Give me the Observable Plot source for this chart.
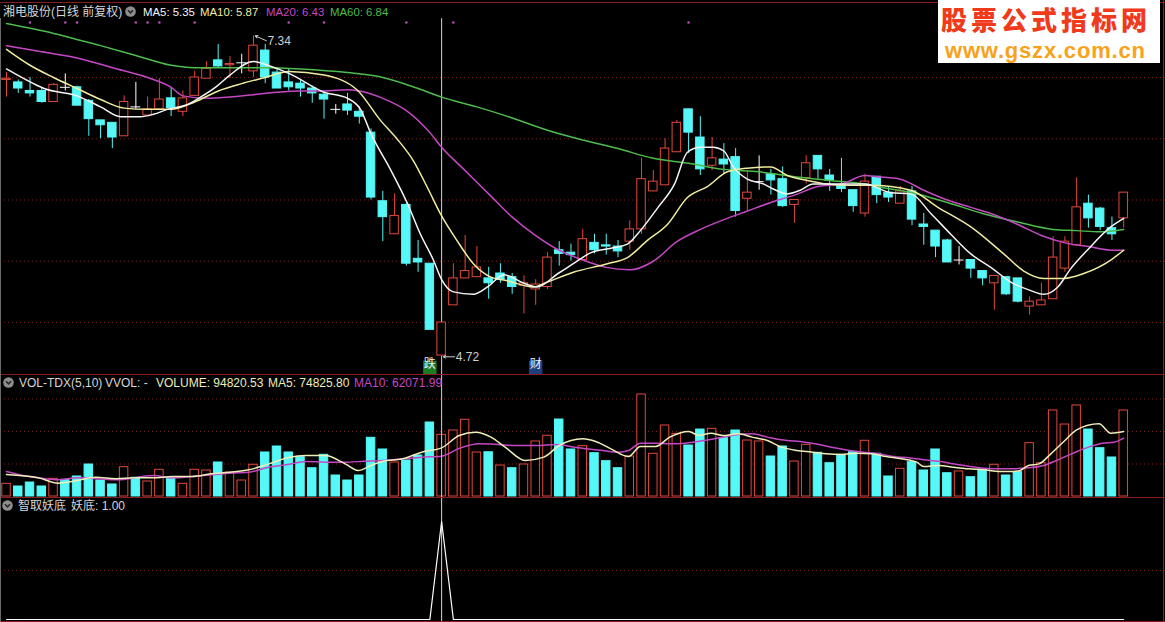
<!DOCTYPE html>
<html><head><meta charset="utf-8">
<script src="https://cdn.jsdelivr.net/npm/d3@7"></script>
<script src="https://cdn.jsdelivr.net/npm/@observablehq/plot@0.6"></script>
<style>
body{margin:0;background:#000;}
#wrap{position:relative;width:1165px;height:622px;background:#000;overflow:hidden;font-family:"Liberation Sans","Noto Sans CJK SC",sans-serif;font-size:12px;}
.panel{position:absolute;left:0;}
.lbl{position:absolute;white-space:nowrap;line-height:14px;font-size:12px;}
.ln{position:absolute;background:#8a1c1c;}
</style></head><body><div id="wrap"></div>
<script>
// ---------- data ----------
const stockTitle = "湘电股份(日线 前复权)";
const open = [6.98,6.96,6.89,6.89,6.80,6.92,6.92,6.81,6.65,6.63,
6.52,6.76,6.69,6.74,6.83,6.72,6.85,6.99,7.14,7.10,
7.12,7.05,7.22,7.04,6.96,6.95,6.91,6.86,6.74,6.78,
6.72,6.55,5.99,5.72,5.96,5.52,5.48,4.73,5.14,5.36,
5.37,5.36,5.40,5.37,5.30,5.27,5.29,5.59,5.57,5.51,
5.65,5.63,5.62,5.66,5.76,6.07,6.12,6.39,6.74,6.51,
6.28,6.33,6.35,6.01,6.15,6.21,6.17,5.96,6.18,6.36,
6.20,6.12,6.08,5.89,6.19,6.06,5.97,6.07,5.80,5.75,
5.67,5.51,5.51,5.42,5.32,5.37,5.36,5.13,5.14,5.19,
5.44,5.63,5.97,5.93,5.77,5.85];
const high = [7.04,6.98,7.00,6.91,6.95,7.03,6.93,6.82,6.65,6.63,
6.85,6.96,6.84,6.99,6.92,6.89,7.05,7.13,7.27,7.17,
7.19,7.34,7.27,7.07,7.07,6.98,6.93,6.88,6.78,6.87,
6.76,6.58,6.07,6.05,5.97,5.67,5.48,5.00,5.48,5.71,
5.62,5.45,5.48,5.40,5.38,5.35,5.57,5.66,5.64,5.76,
5.72,5.72,5.67,5.83,6.34,6.24,6.50,6.65,6.74,6.68,
6.51,6.46,6.42,6.24,6.36,6.25,6.27,6.00,6.36,6.36,
6.25,6.34,6.08,6.21,6.19,6.11,6.11,6.11,5.89,5.75,
5.68,5.62,5.51,5.42,5.38,5.37,5.36,5.21,5.32,5.70,
5.70,6.18,6.04,5.94,5.86,6.06];
const low = [6.84,6.87,6.84,6.79,6.80,6.89,6.77,6.52,6.50,6.42,
6.52,6.74,6.69,6.74,6.68,6.68,6.85,6.99,7.08,6.99,
7.03,7.00,6.95,6.91,6.89,6.84,6.79,6.66,6.70,6.69,
6.62,6.00,5.66,5.72,5.46,5.41,4.94,4.72,5.14,5.36,
5.37,5.19,5.32,5.23,5.07,5.14,5.27,5.46,5.50,5.51,
5.56,5.55,5.53,5.59,5.72,6.07,6.12,6.39,6.38,6.20,
6.24,6.21,5.86,5.91,6.08,6.04,5.94,5.81,6.13,6.17,
6.07,6.06,5.90,5.86,5.97,5.98,5.97,5.79,5.63,5.53,
5.49,5.47,5.36,5.30,5.10,5.22,5.16,5.06,5.14,5.19,
5.41,5.62,5.77,5.75,5.67,5.77];
const close = [6.99,6.91,6.87,6.80,6.94,6.92,6.77,6.66,6.61,6.51,
6.80,6.76,6.74,6.82,6.75,6.83,7.00,7.07,7.09,7.11,
7.12,7.26,7.00,6.91,6.92,6.91,6.87,6.82,6.74,6.73,
6.68,6.02,5.86,5.87,5.48,5.49,4.94,5.00,5.36,5.42,
5.45,5.32,5.35,5.29,5.32,5.31,5.53,5.56,5.55,5.68,
5.59,5.62,5.58,5.76,6.17,6.15,6.42,6.63,6.55,6.25,
6.34,6.29,5.91,6.06,6.15,6.16,5.95,6.00,6.30,6.25,
6.16,6.09,5.95,6.15,6.04,6.02,6.07,5.84,5.78,5.62,
5.49,5.51,5.44,5.36,5.38,5.23,5.17,5.17,5.18,5.53,
5.66,5.94,5.85,5.78,5.72,6.06];
const volume = [19500,15400,21500,15400,27200,25700,30800,49200,24600,18500,
45100,28800,23100,41100,28100,19500,41100,40000,52300,36900,
24600,48800,67700,76900,67700,60400,43500,64100,32300,24600,
32300,90300,72300,52300,55400,63100,113800,94820,101500,118000,
67700,68100,47700,43500,49200,84600,93400,118400,72300,77400,
66600,54300,43500,61500,156900,65700,109200,96400,78400,103000,
104100,89700,101500,86100,84600,61500,76900,53800,79500,67200,
51200,64100,68100,85700,65700,30800,42600,52800,40000,72300,
35800,38500,29700,41100,48800,32300,37400,82000,51200,132300,
110700,140000,103000,74300,60000,132300];
const volUp = [1,0,0,0,1,0,0,0,0,0, 1,0,1,1,0,1,1,1,0,1, 1,1,0,0,0,0,0,0,0,0,
0,0,0,1,0,0,0,1,1,1, 1,0,1,0,1,1,1,0,0,1, 0,0,0,1,1,1,1,1,0,0,
1,0,0,1,1,0,0,1,1,0, 0,0,0,1,0,0,1,0,0,0, 0,1,0,0,1,0,0,1,1,1, 1,1,0,0,0,1];
const yaodi = [0,0,0,0,0,0,0,0,0,0, 0,0,0,0,0,0,0,0,0,0, 0,0,0,0,0,0,0,0,0,0,
0,0,0,0,0,0,0,1,0,0, 0,0,0,0,0,0,0,0,0,0, 0,0,0,0,0,0,0,0,0,0,
0,0,0,0,0,0,0,0,0,0, 0,0,0,0,0,0,0,0,0,0, 0,0,0,0,0,0,0,0,0,0, 0,0,0,0,0,0];

// moving-average lines: [bar, value]
const ma5 = [[1,7.07],[3.3,6.95],[4.2,6.91],[7,6.85],[9,6.76],[10.7,6.68],[12.4,6.68],[13.5,6.70],[14.7,6.74],[16.4,6.78],[17.5,6.84],[18.9,6.93],[20,7.02],[22,7.13],[23.2,7.10],[25.1,7.03],[28,6.88],[30,6.83],[31.1,6.74],[32,6.54],[33.7,6.24],[35.1,5.97],[36.2,5.72],[37.3,5.51],[38,5.35],[39,5.25],[40.7,5.23],[41.9,5.29],[43.3,5.39],[45,5.32],[46.1,5.29],[47.9,5.40],[49.2,5.48],[50.7,5.57],[52.6,5.61],[53.8,5.64],[54.9,5.75],[56.4,5.94],[57.8,6.13],[58.9,6.39],[60,6.43],[61.1,6.43],[62,6.40],[62.8,6.27],[64,6.17],[65.4,6.13],[66.2,6.09],[67.4,6.05],[68.5,6.08],[69.6,6.13],[71,6.13],[72.5,6.13],[74,6.13],[76.2,6.06],[77.9,6.05],[79.6,5.89],[81.3,5.72],[83,5.56],[84.7,5.45],[86.4,5.33],[88.1,5.26],[89.2,5.23],[90.4,5.29],[91.5,5.44],[92.9,5.59],[94.9,5.78],[96,5.85]];
const ma10 = [[1,7.23],[3,7.10],[5,7.00],[7,6.91],[9,6.82],[11,6.75],[13,6.74],[15,6.74],[17,6.80],[19,6.89],[21,6.95],[23,7.00],[25,7.05],[28,7.02],[30.8,6.90],[32.8,6.65],[34.2,6.50],[35.6,6.32],[36.8,6.10],[38,5.87],[39.3,5.67],[40.7,5.48],[42.2,5.37],[43.6,5.34],[45.8,5.29],[47,5.33],[49.2,5.41],[52.1,5.48],[53.8,5.53],[55.5,5.67],[57.2,5.80],[58.9,6.02],[60.6,6.11],[62.3,6.23],[64,6.26],[66,6.27],[67.4,6.20],[69.1,6.16],[70.8,6.13],[72.5,6.12],[74.5,6.12],[77.9,6.08],[80.2,5.94],[83,5.78],[85.8,5.56],[87.5,5.42],[89.2,5.36],[90.9,5.36],[92.6,5.40],[94.9,5.51],[96,5.59]];
const ma20 = [[1,7.26],[4,7.21],[7,7.16],[10,7.08],[13,7.00],[15,6.92],[16,6.85],[18,6.83],[20,6.84],[22,6.86],[24,6.88],[26,6.89],[28,6.89],[30,6.90],[31,6.89],[33,6.83],[35,6.73],[37,6.55],[38,6.43],[40,6.24],[42,6.05],[44,5.86],[46,5.71],[48,5.59],[50,5.51],[52,5.45],[54,5.43],[56,5.50],[58,5.66],[60,5.76],[62,5.84],[64,5.91],[66,5.98],[68,6.04],[70,6.11],[72,6.13],[74,6.20],[75,6.19],[77,6.17],[79,6.08],[81,6.00],[83,5.94],[85,5.88],[87,5.80],[89,5.71],[91,5.65],[93,5.62],[95,5.59],[96,5.59]];
const ma60 = [[1,7.44],[5,7.36],[9,7.26],[12,7.18],[15,7.10],[17,7.08],[20,7.08],[23,7.08],[26,7.07],[30,7.04],[33,7.00],[36,6.91],[38,6.84],[41,6.76],[44,6.67],[47,6.57],[50,6.49],[53,6.42],[56,6.34],[59,6.30],[62,6.25],[65,6.23],[68,6.19],[71,6.16],[74,6.13],[75,6.11],[78,6.06],[81,5.98],[84,5.89],[87,5.82],[90,5.76],[92,5.75],[94,5.74],[96,5.76]];
const volMa5 = [[1,33800],[3.7,28700],[5.4,20500],[7,24600],[8.6,29700],[10.3,27200],[11.9,28700],[13.5,28700],[15.1,30800],[16.8,30800],[18.4,34900],[20,37400],[21.6,41000],[23.3,50200],[24.9,59500],[26.5,63100],[28.1,63100],[29.8,50200],[30.9,40000],[32,47700],[33,54300],[34.7,57900],[36.3,68200],[38,74826],[39.5,93800],[40.9,99000],[42.2,91300],[43.4,75900],[45.1,55400],[46.7,60500],[48,78400],[50,88700],[51.1,84600],[52.4,73300],[53.9,61500],[54.9,76900],[56.2,76900],[57.4,91300],[59,100000],[59.9,93800],[60.9,97400],[61.9,93800],[63.2,96400],[64.4,91300],[65.7,86100],[66.9,75900],[68.2,70800],[69.5,68200],[70.7,65600],[72,64600],[73.3,66700],[74.6,65600],[75.8,61500],[77.1,57900],[78.4,52800],[79,46100],[80.3,47700],[81.5,45100],[82.8,42600],[84.1,41000],[85.4,38500],[86.6,38500],[87.2,40000],[87.9,47700],[88.8,50200],[89.8,65600],[91,86100],[92,102500],[93.9,111800],[94.9,97400],[96,100000]];
const volMa10 = [[1,38500],[2.4,32300],[3.7,28700],[5.4,25600],[7,28700],[10.3,25600],[13.5,32300],[15.1,28700],[16.8,30800],[20,35900],[21.6,37400],[23.3,45100],[24.9,49200],[26.5,53800],[28.1,52800],[29.8,52800],[31.4,54300],[33,55400],[34.7,57900],[36.3,60500],[38,62072],[39.5,74000],[41.2,81000],[42.8,80000],[44.4,78400],[46.1,78400],[47.7,80000],[49.3,75900],[51.7,70800],[53,68200],[53.9,70800],[54.9,82000],[56.2,82000],[57.4,81000],[58.7,82000],[60.3,86100],[61.9,91300],[63.2,95400],[64.4,96400],[65.7,91300],[66.9,87200],[68.9,83600],[70.1,80000],[71.4,74900],[72.7,70800],[73.9,68200],[75.2,65600],[76.4,61500],[77.7,59500],[79,56400],[80.3,54300],[81.5,50200],[82.8,46700],[84.1,43600],[85.4,42600],[86.6,42600],[87.9,44100],[89.2,47700],[90.4,56400],[91.7,66700],[93,75900],[94.2,82000],[95.2,83600],[96,89700]];

const priceGrid = [5.0, 5.5, 6.0, 6.5, 7.0];
const volGrid = [50000, 100000, 150000];
const indGrid = [0.5];
const cursorBar = 38;
const extremeBars = [22, 38];
const extremeVals = [7.34, 4.72];
const infoBars = [3, 6, 7, 12, 13, 14, 17, 25, 28, 35, 39, 59];
const tagBars = [37, 46];
const tagTexts = ["跌", "财"];

const headMain = [["MA5: 5.35","ma5"],["MA10: 5.87","ma10"],["MA20: 6.43","ma20"],["MA60: 6.84","ma60"]];
const headVol = [["VOL-TDX(5,10)","plain"],["VVOL: -","plain"],["VOLUME: 94820.53","vol"],["MA5: 74825.80","vol"],["MA10: 62071.99","ma20"]];
const headInd = [["智取妖底","plain"],["妖底: 1.00","plain"]];

// ---------- styling ----------
const RED = "#e2483c", CYAN = "#55f7f7", GRID = "#7a2020";
const COL = {ma5:"#f4f4f4", ma10:"#f0eca0", ma20:"#c448c4", ma60:"#4cbc4c", vol:"#eeeeb8", plain:"#d6d6d6"};
const W = 1165, STEP = 11.76, X0 = 6;
const xOpt = {type:"linear", domain:[1 - X0/STEP, 1 + (W - X0)/STEP], range:[0, W], axis:null};
const bars = open.map((o, k) => ({i:k+1, o, h:high[k], l:low[k], c:close[k], v:volume[k], up:volUp[k], yd:yaodi[k]}));
const candleColor = d => d.c > d.o ? RED : d.c < d.o ? CYAN : "#ffffff";
const font = {background:"transparent", fontFamily:"'Liberation Sans','Noto Sans CJK SC',sans-serif", overflow:"visible"};

const wrap = document.getElementById("wrap");

const main = Plot.plot({
  width: W, height: 374, margin: 0,
  x: xOpt,
  y: {domain:[5 - 52/122.5, 5 + 322/122.5], range:[374, 0], axis:null},
  color: {type:"identity"},
  style: font,
  marks: [
    Plot.ruleY(priceGrid, {stroke: GRID, strokeDasharray: "1,3"}),
    Plot.dot(infoBars, {x: d => d, frameAnchor: "top", dy: 22, r: 1.3, fill: "#b54cb5"}),
    Plot.ruleX([cursorBar], {y1: 4.5755, y2: 7.48, stroke: "#d4d4d4"}),
    Plot.ruleX(bars, {x: "i", y1: "l", y2: "h", stroke: candleColor}),
    Plot.rect(bars.filter(d => d.o !== d.c), {x1: d => d.i - 0.36, x2: d => d.i + 0.36, y1: "o", y2: "c",
      fill: d => d.c > d.o ? "#000" : CYAN, stroke: candleColor}),
    Plot.ruleY(bars.filter(d => d.o === d.c), {x1: d => d.i - 0.42, x2: d => d.i + 0.42, y: "c", stroke: "#ffffff"}),
    Plot.line(ma60, {x: d => d[0], y: d => d[1], stroke: COL.ma60, curve: "monotone-x"}),
    Plot.line(ma20, {x: d => d[0], y: d => d[1], stroke: COL.ma20, curve: "monotone-x"}),
    Plot.line(ma10, {x: d => d[0], y: d => d[1], stroke: COL.ma10, curve: "monotone-x"}),
    Plot.line(ma5, {x: d => d[0], y: d => d[1], stroke: COL.ma5, curve: "monotone-x"}),
    Plot.arrow(extremeBars, {x1: d => d + 1.1, y1: (d, k) => extremeVals[k] - (k === 0 ? 0.04 : 0), x2: d => d + 0.15, y2: (d, k) => extremeVals[k],
      stroke: "#d0d0d0", headLength: 4, strokeWidth: 1}),
    Plot.text(extremeBars, {x: d => d + 1.2, y: (d, k) => extremeVals[k] - (k === 0 ? 0.04 : 0), text: (d, k) => extremeVals[k].toFixed(2),
      textAnchor: "start", fill: "#d0d0d0", fontSize: 12}),
    Plot.dot(tagBars, {x: d => d, frameAnchor: "bottom", dy: -7, r: 7.6, symbol: "square",
      fill: (d, k) => tagTexts[k] === "跌" ? "#1f7a24" : "#1f3f7c"}),
    Plot.text(tagBars, {x: d => d, frameAnchor: "bottom", dy: -7, text: (d, k) => tagTexts[k], fill: "#e8f0ff", fontSize: 12})
  ]
});

const volPlot = Plot.plot({
  width: W, height: 123, margin: 0,
  x: xOpt,
  y: {domain:[0, 122 * 1538], range:[122, 0], axis:null},
  color: {type:"identity"},
  style: font,
  marks: [
    Plot.ruleY(volGrid, {stroke: GRID, strokeDasharray: "1,3"}),
    Plot.rect(bars, {x1: d => d.i - 0.36, x2: d => d.i + 0.36, y1: 0, y2: "v",
      fill: d => d.up ? "#000" : CYAN, stroke: d => d.up ? RED : CYAN}),
    Plot.line(volMa10, {x: d => d[0], y: d => d[1], stroke: COL.ma20, curve: "monotone-x"}),
    Plot.line(volMa5, {x: d => d[0], y: d => d[1], stroke: COL.vol, curve: "monotone-x"}),
    Plot.ruleX([cursorBar], {stroke: "#d4d4d4"})
  ]
});

const indPlot = Plot.plot({
  width: W, height: 125, margin: 0,
  x: xOpt,
  y: {domain:[0, 1], range:[122, 24], axis:null},
  color: {type:"identity"},
  style: font,
  marks: [
    Plot.ruleY(indGrid, {stroke: GRID, strokeDasharray: "1,3"}),
    Plot.ruleX([cursorBar], {stroke: "#d4d4d4"}),
    Plot.line(bars, {x: "i", y: "yd", stroke: "#ffffff", strokeWidth: 1.2})
  ]
});

[[main, 0], [volPlot, 374], [indPlot, 497]].forEach(([el, top]) => {
  el.classList.add("panel"); el.style.top = top + "px"; wrap.appendChild(el);
});

// frame lines
function line(l, t, w, h, c) { const d = document.createElement("div"); d.className = "ln";
  Object.assign(d.style, {left: l + "px", top: t + "px", width: w + "px", height: h + "px"}); if (c) d.style.background = c; wrap.appendChild(d); }
line(0, 2, W, 1); line(0, 374, W, 1); line(0, 497, W, 1); line(0, 621, W, 1);
line(1163, 0, 1, 622); line(0, 18, 1, 604, "#6a6a6a");

// headers
function text(t, left, top, color, extra) { const s = document.createElement("div"); s.className = "lbl";
  s.textContent = t; Object.assign(s.style, {left: left + "px", top: top + "px", color}, extra || {}); wrap.appendChild(s); return s; }
function icon(left, top) { const ns = "http://www.w3.org/2000/svg"; const s = document.createElementNS(ns, "svg");
  s.setAttribute("width", 11); s.setAttribute("height", 11); s.style.position = "absolute"; s.style.left = left + "px"; s.style.top = top + "px";
  s.innerHTML = '<circle cx="5.5" cy="5.5" r="5.3" fill="#8e8e8e"/><polyline points="3,4.3 5.5,6.8 8,4.3" fill="none" stroke="#262626" stroke-width="1.6"/>';
  wrap.appendChild(s); }

text(stockTitle, 3, 5, COL.plain);
icon(125, 6);
[143, 200, 266, 330].forEach((x, k) => text(headMain[k][0], x, 5, COL[headMain[k][1]], {fontSize:"11.4px"}));
icon(3, 377);
[19, 105, 156, 268, 354].forEach((x, k) => text(headVol[k][0], x, 376, COL[headVol[k][1]]));
icon(2, 500);
[18, 71].forEach((x, k) => text(headInd[k][0], x, 499, COL[headInd[k][1]]));

// watermark
const wm = document.createElement("div");
Object.assign(wm.style, {position:"absolute", left:"938px", top:"0px", width:"222px", height:"63px", background:"#ffffff"});
wrap.appendChild(wm);
text("股票公式指标网", 941, 0, "#f03a1c", {fontSize:"26px", lineHeight:"normal", letterSpacing:"4px", fontWeight:"900", fontFamily:"'Noto Sans CJK SC',sans-serif"});
text("www.gszx.com.cn", 945, 38, "#f7a21b", {fontSize:"22px", lineHeight:"normal", letterSpacing:"0.8px", fontWeight:"bold", fontFamily:"'Liberation Sans',sans-serif"});
</script>
</body></html>
